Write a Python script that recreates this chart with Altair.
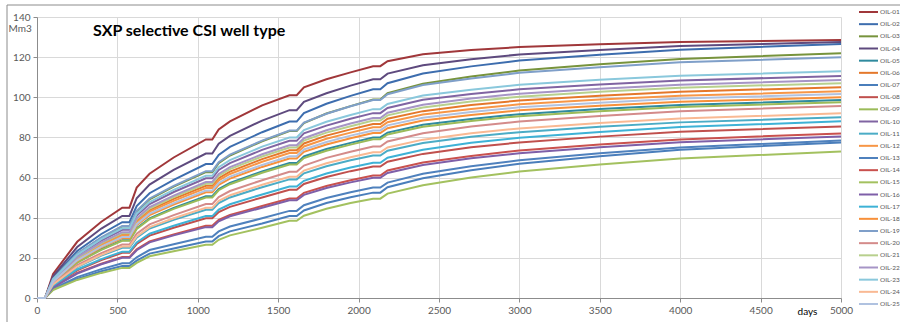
import altair as alt
import pandas as pd

# ---- data ----
days = [0, 50, 100, 250, 400, 530, 575, 620, 700, 850, 1050, 1090, 1130, 1200, 1400,
        1570, 1615, 1660, 1800, 1950, 2090, 2135, 2180, 2400, 2700, 3000, 3500, 4000, 5000]

names = ["OIL-%02d" % i for i in range(1, 26)]

colors = ["#A0373A", "#3D6DAE", "#77933C", "#5E4A7E", "#2F8A9E", "#E4782B",
          "#4A7EBB", "#C0504D", "#9BBB59", "#8064A2", "#4BACC6", "#F79646",
          "#4F81BD", "#C9514E", "#A3C15F", "#7E5FA8", "#3EB2D6", "#F7903A",
          "#7F9FC9", "#D48B8A", "#B8D08D", "#A695C6", "#8AC8DC", "#F9B993",
          "#B0C2E0"]

oil_01 = [0, 0, 12.0, 28.0, 38.0, 45.0, 45.0, 55.0, 61.9, 70.0, 79.0, 79.0, 84.0, 88.0, 96.0, 101.0, 101.0, 105.0, 109.0, 112.4, 115.5, 115.5, 118.0, 121.4, 123.5, 125.0, 126.4, 127.5, 128.5]
oil_02 = [0, 0, 10.1, 23.4, 31.9, 37.8, 37.8, 45.8, 52.2, 58.9, 66.7, 66.7, 71.3, 75.3, 82.6, 87.9, 87.9, 92.1, 96.8, 100.7, 104.0, 104.0, 107.0, 111.8, 115.4, 118.3, 121.2, 123.7, 126.5]
oil_03 = [0, 0, 9.5, 22.0, 30.0, 35.6, 35.6, 43.1, 49.2, 55.5, 62.7, 62.7, 67.2, 71.0, 78.1, 83.2, 83.2, 87.2, 91.9, 95.6, 98.9, 98.9, 102.0, 106.8, 110.4, 113.3, 116.5, 119.1, 122.0]
oil_04 = [0, 0, 10.8, 25.4, 34.6, 40.9, 40.9, 49.7, 56.5, 63.8, 72.0, 72.0, 76.9, 80.8, 88.4, 93.6, 93.6, 97.7, 102.0, 105.8, 109.0, 109.0, 111.8, 116.0, 119.0, 121.3, 123.5, 125.5, 127.5]
oil_05 = [0, 0, 7.7, 17.7, 24.3, 28.8, 28.8, 34.8, 39.7, 44.9, 50.7, 50.7, 54.3, 57.4, 63.1, 67.2, 67.2, 70.5, 74.2, 77.3, 80.0, 80.0, 82.4, 86.3, 89.2, 91.6, 94.2, 96.2, 98.6]
oil_06 = [0, 0, 8.4, 19.6, 26.8, 31.7, 31.7, 38.4, 43.8, 49.4, 55.9, 55.9, 59.7, 63.0, 69.2, 73.6, 73.6, 77.0, 80.9, 84.0, 86.7, 86.7, 89.3, 93.1, 96.1, 98.4, 100.8, 102.8, 105.0]
oil_07 = [0, 0, 4.3, 9.5, 13.3, 15.9, 15.9, 18.6, 22.1, 24.7, 28.1, 28.1, 30.8, 33.2, 37.1, 40.8, 40.8, 43.6, 47.3, 50.2, 52.5, 52.5, 55.2, 59.7, 63.7, 66.9, 70.6, 73.8, 77.5]
oil_08 = [0, 0, 6.0, 13.8, 18.9, 22.5, 22.5, 26.9, 31.1, 35.0, 39.7, 39.7, 42.8, 45.4, 50.1, 53.9, 53.9, 56.8, 60.3, 63.2, 65.5, 65.5, 67.9, 71.8, 75.1, 77.5, 80.4, 82.8, 85.5]
oil_09 = [0, 0, 7.6, 17.6, 24.0, 28.5, 28.5, 34.4, 39.3, 44.4, 50.1, 50.1, 53.7, 56.7, 62.4, 66.5, 66.5, 69.7, 73.4, 76.4, 79.1, 79.1, 81.5, 85.3, 88.2, 90.6, 93.1, 95.2, 97.5]
oil_10 = [0, 0, 9.1, 21.0, 28.6, 34.0, 34.0, 41.1, 46.8, 52.8, 59.6, 59.6, 63.8, 67.2, 73.8, 78.3, 78.3, 82.0, 85.9, 89.3, 92.1, 92.1, 94.7, 98.8, 101.6, 104.0, 106.4, 108.4, 110.6]
oil_11 = [0, 0, 6.7, 15.4, 21.1, 25.0, 25.0, 30.1, 34.6, 38.9, 44.0, 44.0, 47.3, 50.1, 55.2, 59.1, 59.1, 62.1, 65.6, 68.6, 71.0, 71.0, 73.4, 77.2, 80.3, 82.6, 85.3, 87.5, 90.0]
oil_12 = [0, 0, 8.2, 19.3, 26.3, 31.1, 31.1, 37.7, 43.0, 48.4, 54.8, 54.8, 58.6, 61.8, 67.9, 72.2, 72.2, 75.5, 79.3, 82.4, 85.1, 85.1, 87.6, 91.4, 94.2, 96.5, 98.9, 100.8, 103.0]
oil_13 = [0, 0, 4.6, 10.4, 14.4, 17.3, 17.3, 20.3, 23.9, 26.8, 30.5, 30.5, 33.2, 35.6, 39.7, 43.4, 43.4, 46.2, 49.8, 52.7, 55.0, 55.0, 57.5, 61.9, 65.6, 68.6, 72.1, 75.0, 78.5]
oil_14 = [0, 0, 5.4, 12.5, 17.1, 20.4, 20.4, 24.3, 28.2, 31.7, 36.0, 36.0, 38.9, 41.4, 45.8, 49.6, 49.6, 52.4, 55.8, 58.7, 61.0, 61.0, 63.5, 67.5, 70.8, 73.5, 76.5, 79.0, 82.0]
oil_15 = [0, 0, 4.0, 9.0, 12.5, 15.0, 15.0, 17.5, 20.8, 23.3, 26.5, 26.5, 29.0, 31.2, 35.0, 38.5, 38.5, 41.0, 44.5, 47.3, 49.5, 49.5, 52.0, 56.2, 60.0, 63.0, 66.5, 69.5, 73.0]
oil_16 = [0, 0, 5.3, 12.2, 16.8, 20.0, 20.0, 23.8, 27.7, 31.2, 35.3, 35.3, 38.2, 40.7, 45.0, 48.7, 48.7, 51.4, 54.8, 57.6, 59.9, 59.9, 62.3, 66.3, 69.6, 72.1, 75.1, 77.6, 80.5]
oil_17 = [0, 0, 6.2, 14.2, 19.4, 23.1, 23.1, 27.7, 32.0, 36.0, 40.8, 40.8, 44.0, 46.7, 51.6, 55.5, 55.5, 58.4, 62.0, 65.0, 67.4, 67.4, 69.9, 73.9, 77.3, 79.8, 82.7, 85.2, 88.0]
oil_18 = [0, 0, 8.0, 18.5, 25.2, 29.9, 29.9, 36.2, 41.3, 46.6, 52.7, 52.7, 56.4, 59.5, 65.3, 69.5, 69.5, 72.8, 76.5, 79.6, 82.2, 82.2, 84.6, 88.4, 91.2, 93.5, 95.8, 97.8, 100.0]
oil_19 = [0, 0, 9.6, 22.2, 30.2, 35.9, 35.9, 43.4, 49.6, 55.9, 63.2, 63.2, 67.7, 71.4, 78.4, 83.4, 83.4, 87.4, 91.8, 95.5, 98.6, 98.6, 101.5, 106.1, 109.4, 112.2, 115.0, 117.4, 120.0]
oil_20 = [0, 0, 7.1, 16.4, 22.4, 26.6, 26.6, 32.0, 36.7, 41.3, 46.8, 46.8, 50.3, 53.3, 58.7, 62.9, 62.9, 66.0, 69.8, 72.9, 75.5, 75.5, 78.0, 82.1, 85.4, 87.9, 90.7, 93.0, 95.7]
oil_21 = [0, 0, 8.6, 20.0, 27.3, 32.3, 32.3, 39.2, 44.6, 50.3, 56.9, 56.9, 60.9, 64.2, 70.5, 75.0, 75.0, 78.4, 82.4, 85.6, 88.4, 88.4, 91.0, 94.9, 97.9, 100.3, 102.7, 104.8, 107.0]
oil_22 = [0, 0, 8.7, 20.3, 27.7, 32.8, 32.8, 39.7, 45.3, 51.0, 57.8, 57.8, 61.8, 65.2, 71.6, 76.1, 76.1, 79.6, 83.6, 86.9, 89.7, 89.7, 92.3, 96.3, 99.4, 101.8, 104.3, 106.3, 108.6]
oil_23 = [0, 0, 9.3, 21.5, 29.3, 34.7, 34.7, 42.0, 47.8, 53.9, 60.9, 60.9, 65.2, 68.7, 75.4, 80.0, 80.0, 83.7, 87.8, 91.2, 94.1, 94.1, 96.7, 100.9, 103.8, 106.2, 108.7, 110.7, 113.0]
oil_24 = [0, 0, 6.8, 15.7, 21.5, 25.6, 25.6, 30.7, 35.3, 39.7, 45.0, 45.0, 48.4, 51.2, 56.4, 60.4, 60.4, 63.5, 67.1, 70.1, 72.6, 72.6, 75.0, 78.9, 82.1, 84.5, 87.2, 89.4, 92.0]
oil_25 = [0, 0, 8.1, 18.8, 25.6, 30.4, 30.4, 36.8, 42.0, 47.3, 53.5, 53.5, 57.3, 60.5, 66.3, 70.6, 70.6, 74.0, 77.7, 80.9, 83.5, 83.5, 86.0, 89.8, 92.7, 95.0, 97.3, 99.4, 101.6]

series = [oil_01, oil_02, oil_03, oil_04, oil_05, oil_06, oil_07, oil_08, oil_09,
          oil_10, oil_11, oil_12, oil_13, oil_14, oil_15, oil_16, oil_17, oil_18,
          oil_19, oil_20, oil_21, oil_22, oil_23, oil_24, oil_25]

x_ticks = [0, 500, 1000, 1500, 2000, 2500, 3000, 3500, 4000, 4500, 5000]
y_ticks = [0, 20, 40, 60, 80, 100, 120, 140]
chart_title = "SXP selective CSI well type"

rows = []
for n, vals in zip(names, series):
    for d, v in zip(days, vals):
        rows.append({"name": n, "day": d, "value": v})
df = pd.DataFrame(rows)
legend_df = pd.DataFrame({"name": names})

W, H = 804, 281
FONT = "Lato"
GRAY = "#595959"

color_scale = alt.Scale(domain=names, range=colors)

lines = alt.Chart(df).mark_line(strokeWidth=2).encode(
    x=alt.X("day:Q",
            scale=alt.Scale(domain=[0, 5000], nice=False, zero=False),
            axis=alt.Axis(values=x_ticks, format="d", title="days", grid=True,
                          gridColor="#D9D9D9", domainColor="#8C8C8C",
                          tickColor="#8C8C8C", tickSize=4, labelPadding=3,
                          labelFont=FONT, labelFontSize=10, labelColor=GRAY,
                          labelFlush=False,
                          titleFont=FONT, titleFontSize=10, titleFontWeight="normal",
                          titleColor="#000000", titleX=770, titleY=13,
                          titleAlign="center", titleBaseline="middle")),
    y=alt.Y("value:Q",
            scale=alt.Scale(domain=[0, 140], nice=False),
            axis=alt.Axis(values=y_ticks, format="d", title="Mm3", grid=True,
                          gridColor="#D9D9D9", domainColor="#8C8C8C",
                          tickColor="#8C8C8C", tickSize=4, labelPadding=3,
                          labelFont=FONT, labelFontSize=10, labelColor=GRAY,
                          titleFont=FONT, titleFontSize=10, titleFontWeight="normal",
                          titleColor=GRAY, titleAngle=0, titleX=-29, titleY=11,
                          titleAlign="left", titleBaseline="middle")),
    color=alt.Color("name:N", scale=color_scale, legend=None),
)

title_text = alt.Chart(pd.DataFrame({"t": [chart_title]})).mark_text(
    font=FONT, fontSize=16, fontWeight="bold", align="left", baseline="middle",
    color="#000000"
).encode(x=alt.value(56), y=alt.value(14), text="t:N")

leg_y = alt.Y("name:N", scale=alt.Scale(type="point", domain=names, range=[-5, 287], padding=0),
              axis=None)

leg_rules = alt.Chart(legend_df).mark_rule(strokeWidth=2).encode(
    x=alt.value(822), x2=alt.value(841), y=leg_y,
    color=alt.Color("name:N", scale=color_scale, legend=None),
)

leg_text = alt.Chart(legend_df).mark_text(
    font=FONT, fontSize=6.5, align="left", baseline="middle", color=GRAY
).encode(x=alt.value(843), y=leg_y, text="name:N")

frame_df = pd.DataFrame({"a": [0]})
frame_left = alt.Chart(frame_df).mark_rule(color="#8C8C8C", strokeWidth=1).encode(
    x=alt.value(-30), y=alt.value(-12), y2=alt.value(310))
frame_top = alt.Chart(frame_df).mark_rule(color="#8C8C8C", strokeWidth=1).encode(
    x=alt.value(-30), x2=alt.value(870), y=alt.value(-12))

chart = alt.layer(lines, title_text, leg_rules, leg_text, frame_left, frame_top).resolve_scale(
    y="independent"
).properties(
    width=W, height=H,
    padding={"left": 37, "top": 17, "right": 59, "bottom": 24},
    autosize=alt.AutoSizeParams(type="none"),
    background="#FFFFFF",
).configure_view(stroke="transparent")

chart.save("out.html", embed_options={"renderer": "svg", "actions": False})
